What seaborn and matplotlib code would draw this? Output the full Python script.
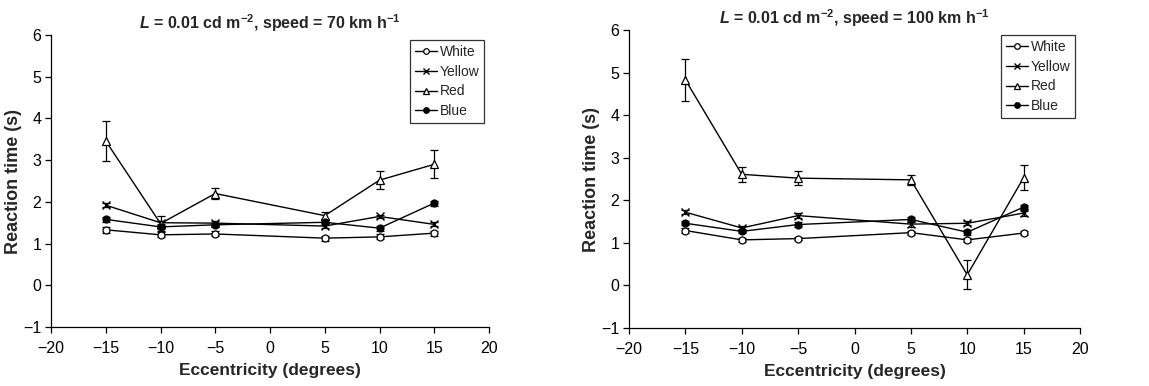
import numpy as np
import pandas as pd
import matplotlib
matplotlib.use("Agg")
import matplotlib.pyplot as plt
import seaborn as sns

sns.set_theme(style="white")
plt.rcParams['font.family'] = ['Liberation Sans', 'DejaVu Sans']
plt.rcParams['mathtext.fontset'] = 'custom'
plt.rcParams['mathtext.rm'] = 'Liberation Sans:bold'
plt.rcParams['mathtext.it'] = 'Liberation Sans:italic:bold'
plt.rcParams['mathtext.bf'] = 'Liberation Sans:bold'

ecc = [-15, -10, -5, 5, 10, 15]
series = ["White", "Yellow", "Red", "Blue"]

# Panel 1: speed = 70 km/h
p1_white = [1.33, 1.21, 1.23, 1.13, 1.16, 1.25]
p1_yellow = [1.92, 1.50, 1.49, 1.42, 1.65, 1.46]
p1_red = [3.46, 1.48, 2.20, 1.67, 2.52, 2.90]
p1_blue = [1.58, 1.40, 1.45, 1.51, 1.37, 1.97]
p1_white_err = [0.07, 0.06, 0.06, 0.06, 0.06, 0.06]
p1_yellow_err = [0.05, 0.05, 0.04, 0.05, 0.04, 0.05]
p1_red_err = [0.48, 0.17, 0.14, 0.09, 0.22, 0.34]
p1_blue_err = [0.06, 0.06, 0.05, 0.06, 0.06, 0.06]

# Panel 2: speed = 100 km/h
p2_white = [1.29, 1.07, 1.10, 1.24, 1.07, 1.23]
p2_yellow = [1.72, 1.35, 1.64, 1.44, 1.46, 1.70]
p2_red = [4.83, 2.61, 2.52, 2.48, 0.25, 2.53]
p2_blue = [1.46, 1.27, 1.43, 1.55, 1.25, 1.84]
p2_white_err = [0.05, 0.04, 0.04, 0.05, 0.05, 0.04]
p2_yellow_err = [0.05, 0.05, 0.05, 0.06, 0.05, 0.06]
p2_red_err = [0.49, 0.18, 0.17, 0.11, 0.34, 0.29]
p2_blue_err = [0.05, 0.05, 0.06, 0.05, 0.06, 0.05]

titles = [r"$L$ = 0.01 cd m$^{-2}$, speed = 70 km h$^{-1}$",
          r"$L$ = 0.01 cd m$^{-2}$, speed = 100 km h$^{-1}$"]

styles = {
    "White": dict(marker="o", mfc="white", mec="black", ms=5, mew=0.9),
    "Yellow": dict(marker="x", mfc="black", mec="black", ms=5.5, mew=1.0),
    "Red": dict(marker="^", mfc="white", mec="black", ms=6, mew=0.9),
    "Blue": dict(marker="o", mfc="black", mec="black", ms=5, mew=0.9),
}

panels = [
    (dict(White=p1_white, Yellow=p1_yellow, Red=p1_red, Blue=p1_blue),
     dict(White=p1_white_err, Yellow=p1_yellow_err, Red=p1_red_err, Blue=p1_blue_err)),
    (dict(White=p2_white, Yellow=p2_yellow, Red=p2_red, Blue=p2_blue),
     dict(White=p2_white_err, Yellow=p2_yellow_err, Red=p2_red_err, Blue=p2_blue_err)),
]

W, H = 1149, 386
fig = plt.figure(figsize=(W / 100, H / 100), dpi=100)
boxes = [(51, 489, 35, 327), (629, 1080, 30, 328)]
title_pads = [4, 4]

for i, ((vals, errs), (l, r, t, b)) in enumerate(zip(panels, boxes)):
    ax = fig.add_axes([l / W, 1 - b / H, (r - l) / W, (b - t) / H])
    for name in series:
        df = pd.DataFrame({"x": ecc, "y": vals[name]})
        ax.errorbar(ecc, vals[name], yerr=errs[name], fmt="none", ecolor="black",
                    elinewidth=0.9, capsize=3, capthick=0.9, zorder=2)
        st = styles[name]
        sns.lineplot(data=df, x="x", y="y", ax=ax, color="black", linewidth=1.0,
                     marker=st["marker"], markersize=st["ms"],
                     markerfacecolor=st["mfc"], markeredgecolor=st["mec"],
                     markeredgewidth=st["mew"], label=name, zorder=3)
    ax.set_xlim(-20, 20)
    ax.set_ylim(-1, 6)
    ax.set_xticks(np.arange(-20, 21, 5))
    ax.set_yticks(np.arange(-1, 7, 1))
    ax.tick_params(axis="both", direction="out", length=4, width=0.9,
                   labelsize=11.5, colors="black", bottom=True, left=True)
    ax.tick_params(axis="x", pad=6)
    ax.tick_params(axis="y", pad=3)
    for s in ["top", "right"]:
        ax.spines[s].set_visible(False)
    for s in ["left", "bottom"]:
        ax.spines[s].set_color("black")
        ax.spines[s].set_linewidth(0.9)
    ax.set_xlabel("Eccentricity (degrees)", fontsize=12.5, fontweight="bold", labelpad=5)
    ax.set_ylabel("Reaction time (s)", fontsize=13, fontweight="bold", labelpad=1)
    ax.set_title(titles[i], fontsize=11.5, fontweight="bold", pad=title_pads[i])
    leg = ax.legend(loc="upper right", fontsize=10, frameon=True, fancybox=False,
                    handlelength=1.6, handletextpad=0.2, borderpad=0.35,
                    labelspacing=0.42, borderaxespad=0.35, markerscale=0.8)
    leg.get_frame().set_edgecolor("black")
    leg.get_frame().set_linewidth(0.9)

fig.savefig("out.png", dpi=100)
